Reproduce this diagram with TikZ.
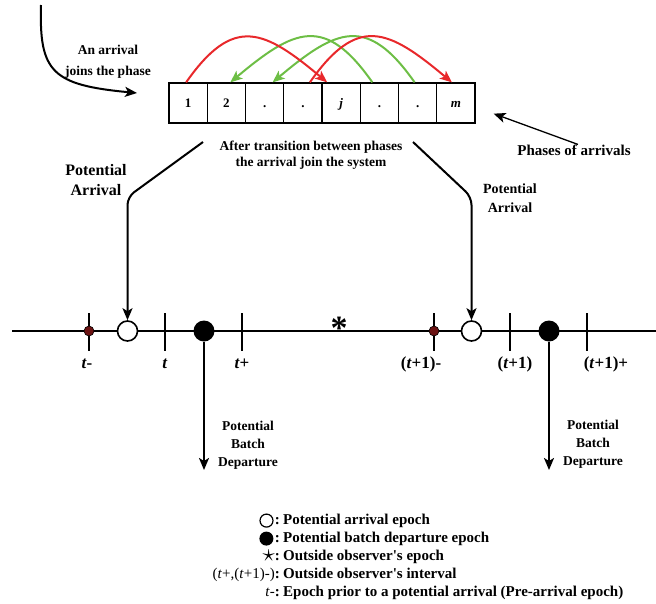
\documentclass[tikz,border=0pt]{standalone}
\usepackage{fontspec}
\setmainfont{Liberation Serif}
\usetikzlibrary{arrows.meta,positioning}
\definecolor{ArcRed}{HTML}{E8282B}
\definecolor{ArcGreen}{HTML}{6DBE45}
\definecolor{PreDot}{HTML}{6B1212}

\begin{document}
\begin{tikzpicture}[x=1pt,y=1pt,
        cell/.style={draw,line width=1.3pt,minimum width=38.25pt,minimum height=40pt,
          inner sep=0pt,text height=9pt,text depth=0pt,font=\fontsize{13}{15}\selectfont\bfseries},
        arc/.style={line width=2pt,-{Stealth[length=12pt,width=10pt,inset=3pt]},looseness=1.5},
        arr/.style={line width=2pt,-{Stealth[length=12pt,width=10pt,inset=3pt]}},
        lbl/.style={font=\fontsize{13.5}{18}\selectfont\bfseries,align=center,inner sep=0pt},
        tlab/.style={font=\fontsize{17}{20}\selectfont\bfseries,inner sep=0pt},
        leg/.style={font=\fontsize{15}{18}\selectfont\bfseries,inner sep=0pt},
        opn/.style={circle,draw,line width=1.6pt,fill=white,minimum size=20pt,inner sep=0pt},
        cls/.style={circle,fill=black,minimum size=21pt,inner sep=0pt},
        pre/.style={circle,draw,line width=0.6pt,fill=PreDot,minimum size=10pt,inner sep=0pt}]
        \useasboundingbox (0,0) rectangle (656,-603);
        % phases of the arrival process
        \foreach \lab [count=\i] in {1,2,.,.,\textit{j},.,.,\textit{m}}
          \node[cell] (cell\i) at ({169+38.25*(\i-0.5)},-103) {\lab};
        \draw[arc,ArcGreen] ([xshift=-7pt]cell6.north) to[out=125,in=40] ([xshift=4pt]cell2.north);
        \draw[arc,ArcGreen] ([xshift=-3pt]cell7.north) to[out=125,in=40] ([xshift=8pt]cell3.north);
        \draw[arc,ArcRed] ([xshift=-2pt]cell1.north) to[out=55,in=140] ([xshift=-14pt]cell5.north);
        \draw[arc,ArcRed] ([xshift=7pt]cell4.north) to[out=55,in=140] ([xshift=-4pt]cell8.north);

        \coordinate (src) at (41,-5);
        \coordinate (entry) at (137,-93);
        \draw[arr] (src) .. controls (39,-72) and (52,-85) .. (entry);
        \node[lbl] (joins) at (108,-62) {An arrival\\[3pt]joins the phase};
        \node[lbl] (trans) at (311,-155) {After transition between phases\\[-2pt]the arrival join the system};
        \node[lbl,font=\fontsize{15}{18}\selectfont\bfseries] (phases) at (574,-150) {Phases of arrivals};
        \draw[arr,line width=1.3pt] ([xshift=4pt]phases.north) -- ([shift={(18pt,10pt)}]cell8.south east);

        % time axis
        \coordinate (tl0) at (12,-331);
        \coordinate (tl1) at (656,-331);
        \draw[line width=2.6pt] (tl0) -- (tl1);
        \foreach \x in {89,165,242,434,510,587}
          \draw[line width=1.8pt] (\x,-313) -- (\x,-351);
        \node[pre] (pre1) at (89,-331) {};
        \node[opn] (arr1) at (127.5,-331) {};
        \node[cls] (dep1) at (204,-331) {};
        \node[pre] (pre2) at (434,-331) {};
        \node[opn] (arr2) at (471.5,-331) {};
        \node[cls] (dep2) at (549,-331) {};
        \node[font=\fontsize{34}{34}\selectfont\bfseries,inner sep=0pt] (obs) at (339,-328) {*};

        \node[tlab] (lt1) at (87,-364) {\textit{t}-};
        \node[tlab] (lt2) at (165,-364) {\textit{t}};
        \node[tlab] (lt3) at (242,-364) {\textit{t}+};
        \node[tlab] (lt4) at (421,-364) {(\textit{t}+1)-};
        \node[tlab] (lt5) at (515,-364) {(\textit{t}+1)};
        \node[tlab] (lt6) at (606,-364) {(\textit{t}+1)+};

        % potential arrivals
        \coordinate (lfrom) at (203,-142);
        \coordinate (rfrom) at (413,-142);
        \coordinate (bend) at (0,-197);
        \draw[arr,rounded corners=8pt] (lfrom) -- (arr1.north |- bend) -- (arr1.north);
        \draw[arr,rounded corners=8pt] (rfrom) -- (arr2.north |- bend) -- (arr2.north);
        \node[lbl,font=\fontsize{16}{20}\selectfont\bfseries] (pa1) at (96,-180) {Potential\\Arrival};
        \node[lbl,font=\fontsize{14}{19}\selectfont\bfseries] (pa2) at (510,-198) {Potential\\Arrival};

        % potential batch departures
        \coordinate (dlow) at (0,-470);
        \draw[arr] (dep1.south) -- (dep1.south |- dlow);
        \draw[arr] (dep2.south) -- (dep2.south |- dlow);
        \node[lbl] (bd1) at (248,-445) {Potential\\Batch\\Departure};
        \node[lbl] (bd2) at (593,-444) {Potential\\Batch\\Departure};

        % legend
        \node[leg,anchor=base west] (leg1) at (283,-524) {Potential arrival epoch};
        \node[leg,anchor=base west] (leg2) at (283,-542) {Potential batch departure epoch};
        \node[leg,anchor=base west] (leg3) at (283,-560) {Outside observer\textquotesingle s epoch};
        \node[leg,anchor=base west] (leg4) at (283,-578) {Outside observer\textquotesingle s interval};
        \node[leg,anchor=base west] (leg5) at (283,-596) {Epoch prior to a potential arrival (Pre-arrival epoch)};
        \node[leg,anchor=base east] (key1) at ([xshift=-3pt]leg1.base west) {:};
        \node[leg,anchor=base east] (key2) at ([xshift=-3pt]leg2.base west) {:};
        \node[leg,anchor=base east] (key3) at ([xshift=-3pt]leg3.base west) {\raisebox{-1.5pt}{\fontsize{30}{30}\selectfont$\star$}\fontsize{15}{18}\selectfont:};
        \node[leg,anchor=base east] (key4) at ([xshift=-3pt]leg4.base west) {\mdseries(\textit{t}+,(\textit{t}+1)-)\bfseries:};
        \node[leg,anchor=base east] (key5) at ([xshift=-3pt]leg5.base west) {\mdseries\textit{t}-\bfseries:};
        \node[opn,minimum size=13pt,line width=1.2pt,left=1pt of key1] (sym1) {};
        \node[cls,minimum size=14pt,left=1pt of key2] (sym2) {};
      \end{tikzpicture}
\end{document}
